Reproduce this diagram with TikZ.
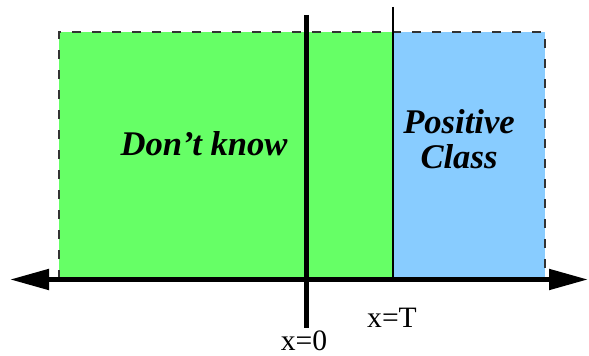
\documentclass[tikz,border=0pt]{standalone}
\usepackage{fontspec}
\setmainfont{Liberation Serif}
\usepackage{xcolor}
\definecolor{unsuregreen}{HTML}{66FF66}
\definecolor{posblue}{HTML}{88CCFF}
\definecolor{edgegray}{HTML}{333333}
\usepackage{tikz}
\usetikzlibrary{arrows.meta, positioning}

\begin{document}
\begin{tikzpicture}[x=0.5pt, y=-0.5pt,
    region/.style={font=\fontsize{17.3}{17.5}\selectfont\bfseries\itshape, align=center, inner sep=0pt},
    ticklabel/.style={font=\fontsize{14.8}{16}\selectfont, anchor=base, inner sep=0pt},
    axis/.style={line width=2.5pt, {Triangle[length=19.5pt, width=10pt]}-{Triangle[length=19.5pt, width=10pt]}},
]
    \useasboundingbox (0,0) rectangle (589,356);

    % regions
    \fill[unsuregreen] (59,32) rectangle (393,279);
    \fill[posblue] (393,32) rectangle (545,279);
    \draw[edgegray, line width=0.75pt, dash pattern=on 4.5pt off 5.5pt] (59,279) -- (59,32) -- (545,32) -- (545,279);

    % axis and marks
    \coordinate (left) at (10,279.5);
    \coordinate (right) at (588,279.5);
    \coordinate (zerotop) at (306.5,15);
    \coordinate (zerobot) at (306.5,328);
    \coordinate (ttop) at (393,7);
    \coordinate (tbot) at (393,279);
    \draw[axis] (left) -- (right);
    \draw[line width=2.5pt] (zerotop) -- (zerobot);
    \draw[line width=1.25pt] (ttop) -- (tbot);

    % labels
    \node[region] (unsure) at (204,144) {Don’t know};
    \node[region] (positive) at (459,139) {Positive\\Class};
    \node[ticklabel] (zerolbl) at (304,351) {x=0};
    \node[ticklabel] (tlbl) at (392,328) {x=T};
\end{tikzpicture}
\end{document}
